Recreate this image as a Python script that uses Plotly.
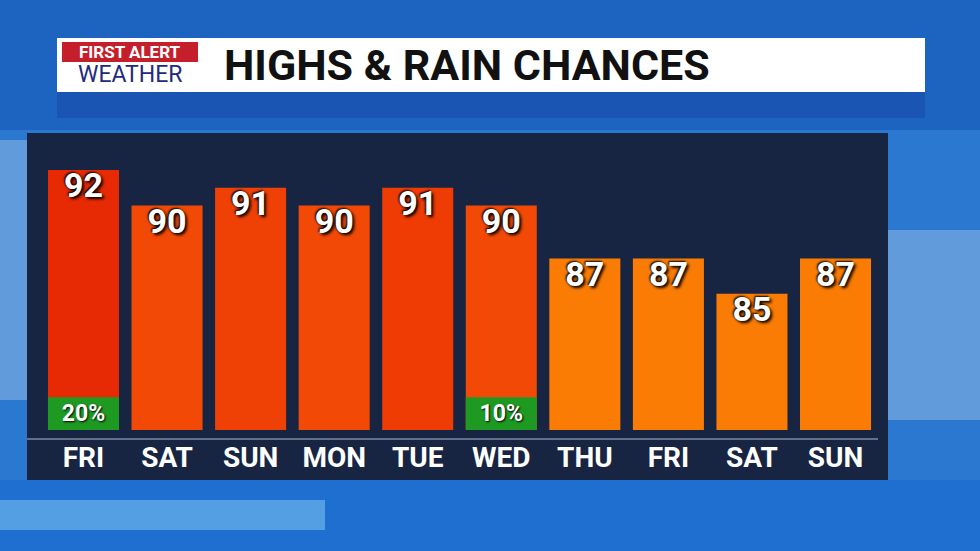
import plotly.graph_objects as go

days = ["FRI", "SAT", "SUN", "MON", "TUE", "WED", "THU", "FRI ", "SAT ", "SUN "]
highs = [92, 90, 91, 90, 91, 90, 87, 87, 85, 87]
rain = [20, None, None, None, None, 10, None, None, None, None]
bar_colors = ["#e82a04", "#f24a06", "#ef4006", "#f24a06", "#ef3c04", "#f24a06",
              "#fb7c04", "#fb7c04", "#fb7c04", "#fb7c04"]

W, H = 980, 551
base = 77.3
top = 94.1

def px(x0, y0, x1, y1):
    return dict(x0=x0 / W, x1=x1 / W, y0=1 - y1 / H, y1=1 - y0 / H, xref="paper", yref="paper")

fig = go.Figure()

# highs
fig.add_bar(x=days, y=[h - base for h in highs], base=base, marker_color=bar_colors,
            marker_line_width=0, width=0.85, hoverinfo="skip")
# rain chance boxes
rain_h = [1.85 if r else None for r in rain]
fig.add_bar(x=days, y=rain_h, base=base, marker_color="#1e9a22", marker_line_width=0,
            width=0.85, hoverinfo="skip",
            text=[f"<b>{r}%</b>" if r else "" for r in rain], textposition="inside",
            insidetextanchor="middle", textangle=0,
            textfont=dict(family="Roboto", size=25, color="white", shadow="1px 1px 2px black"))
# value labels
fig.add_scatter(x=days, y=[h - 1.05 for h in highs], mode="text",
                text=[f"<b>{h}</b>" for h in highs], hoverinfo="skip",
                textfont=dict(family="Roboto", size=34, color="white",
                              shadow="2px 2px 3px black, -1px -1px 2px black"))

shapes = [
    # background sky
    dict(type="rect", **px(0, 0, 980, 551), fillcolor="#2a78cf", line_width=0, layer="below"),
    dict(type="rect", **px(0, 0, 980, 130), fillcolor="#1d63c0", line_width=0, layer="below"),
    dict(type="rect", **px(0, 140, 120, 400), fillcolor="rgba(200,220,240,0.35)", line_width=0, layer="below"),
    dict(type="rect", **px(880, 230, 980, 420), fillcolor="rgba(200,220,240,0.35)", line_width=0, layer="below"),
    dict(type="rect", **px(0, 480, 980, 551), fillcolor="#1f6fd0", line_width=0, layer="below"),
    dict(type="rect", **px(0, 500, 325, 530), fillcolor="rgba(120,190,240,0.6)", line_width=0, layer="below"),
    dict(type="rect", **px(57, 92, 925, 118), fillcolor="#1a55b4", line_width=0, layer="below"),
    # dark panel
    dict(type="rect", **px(27, 133, 888, 480), fillcolor="#172542", line_width=0, layer="below"),
    # title bar
    dict(type="rect", **px(57, 38, 925, 92), fillcolor="white", line_width=0, layer="below"),
    dict(type="rect", **px(62, 42, 198, 62), fillcolor="#c41f2a", line_width=0, layer="below"),
    # separator
    dict(type="line", **px(27, 439, 878, 439), line=dict(color="#7f8aa0", width=1.5)),
]

annotations = [
    dict(text="<b>FIRST ALERT</b>", x=130 / W, y=1 - 52 / H, xref="paper", yref="paper",
         xanchor="center", yanchor="middle",
         showarrow=False, font=dict(family="Roboto", size=17, color="white")),
    dict(text="WEATHER", x=130 / W, y=1 - 75 / H, xref="paper", yref="paper",
         xanchor="center", yanchor="middle",
         showarrow=False, font=dict(family="Roboto", size=23, color="#1f2a80")),
    dict(text="<b>HIGHS &amp; RAIN CHANCES</b>", x=222 / W, y=1 - 65 / H, xref="paper", yref="paper",
         xanchor="left", yanchor="middle", showarrow=False,
         font=dict(family="Roboto", size=43, color="#111111")),
]

fig.update_layout(
    width=W, height=H, margin=dict(l=0, r=0, t=0, b=0),
    paper_bgcolor="#2a78cf", plot_bgcolor="rgba(0,0,0,0)",
    showlegend=False, barmode="overlay",
    shapes=shapes, annotations=annotations,
    xaxis=dict(domain=[27 / W, 888 / W], range=[-0.676, 9.628], showgrid=False,
               zeroline=False, ticks="", ticklabelstandoff=8,
               tickfont=dict(family="Roboto", size=28, color="white"),
               tickvals=days, ticktext=[f"<b>{d.strip()}</b>" for d in days]),
    yaxis=dict(domain=[1 - 430 / H, 1 - 133 / H], range=[base, top], visible=False),
)

fig.write_html("out.html", config={"displayModeBar": False},
               post_script="document.body.style.margin='0';")
